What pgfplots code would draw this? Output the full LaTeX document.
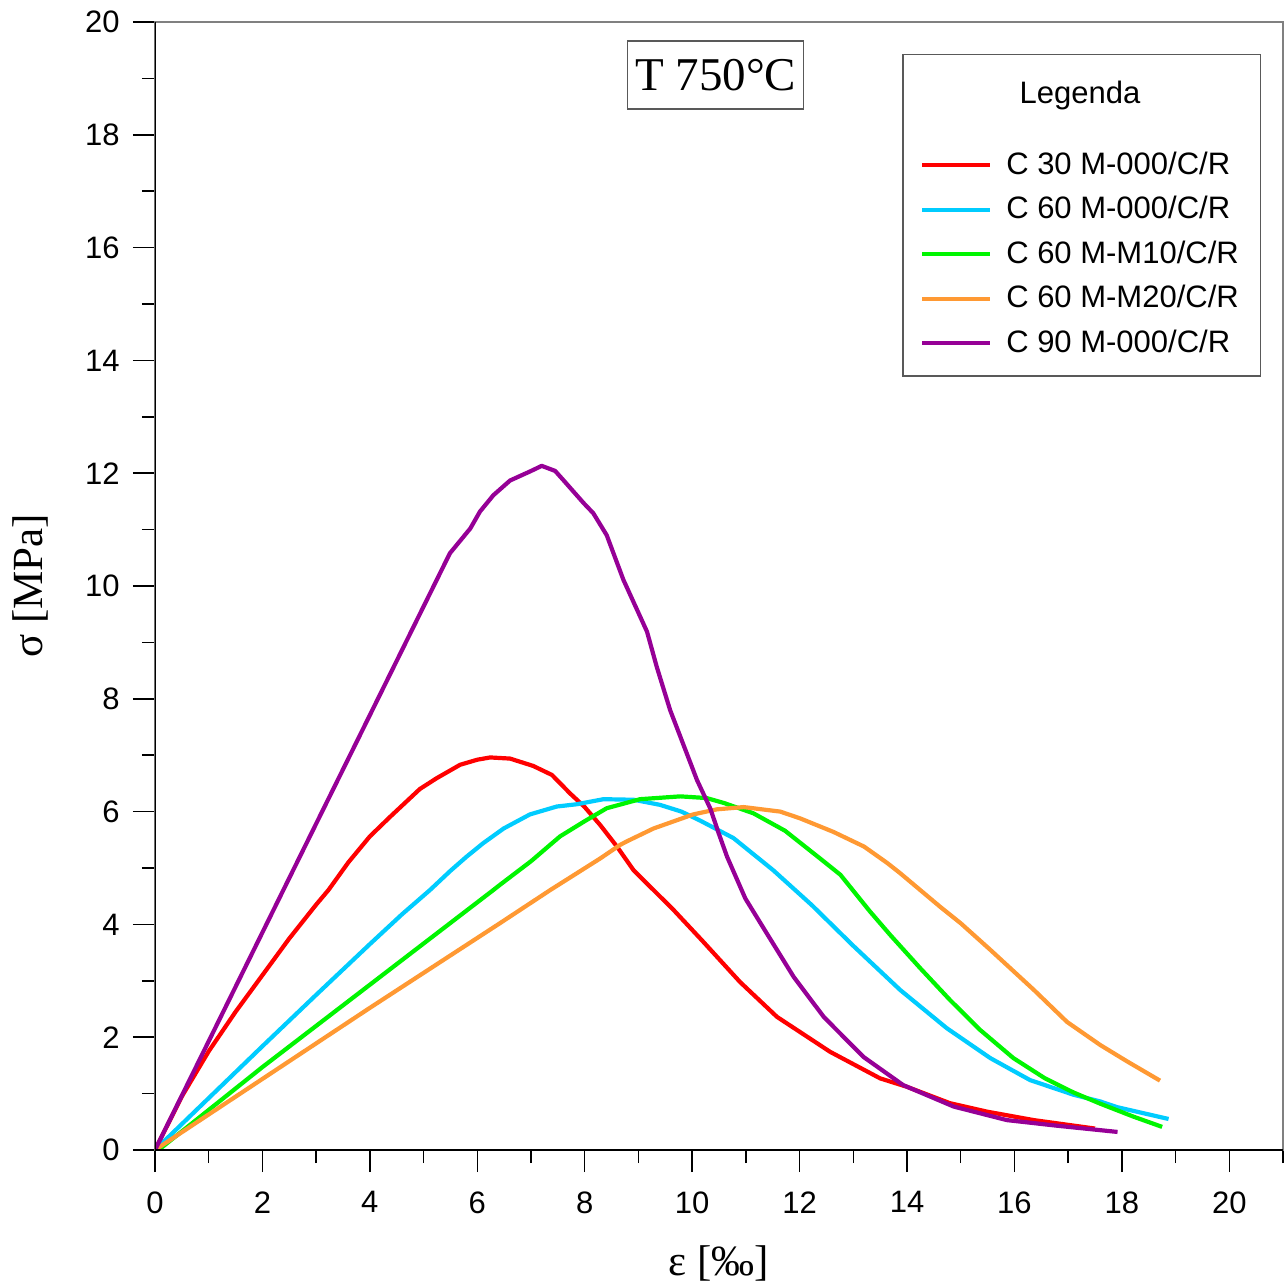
\documentclass[border=0pt]{standalone}
\usepackage{pgfplots}
\pgfplotsset{compat=1.18}
\usepackage{fontspec}
\setmainfont{Liberation Sans}
\newfontfamily\tnr{Liberation Serif}
\definecolor{cRed}{RGB}{255,0,0}
\definecolor{cCyan}{RGB}{0,204,255}
\definecolor{cGreen}{RGB}{0,245,0}
\definecolor{cOrange}{RGB}{255,153,51}
\definecolor{cPurple}{RGB}{150,0,150}
\begin{document}
\begin{tikzpicture}
\begin{axis}[
  scale only axis, width=564pt, height=564pt,
  xmin=0, xmax=21, ymin=0, ymax=20,
  xtick={0,2,...,20}, ytick={0,2,...,20},
  minor xtick={1,3,...,21}, minor ytick={1,3,...,19},
  tick align=outside, xtick pos=left, ytick pos=left,
  major tick length=11pt, minor tick length=6.5pt,
  every tick/.style={black, line width=0.75pt},
  axis line style={line width=1pt, black!50},
  /pgf/number format/assume math mode=true,
  tick label style={font=\fontsize{15.5}{18}\selectfont},
  xticklabel style={inner sep=0pt, anchor=north, yshift=-9.5pt},
  yticklabel style={inner sep=0pt, anchor=east, xshift=-6.5pt},
  xlabel={ε [‰]}, ylabel={σ [MPa]},
  every axis x label/.style={at={(rel axis cs:0.5,0)}, yshift=-56.5pt, anchor=center, font=\tnr\fontsize{21.5}{24}\selectfont},
  every axis y label/.style={at={(rel axis cs:0,0.5)}, xshift=-62.5pt, rotate=90, anchor=center, font=\tnr\fontsize{21.5}{24}\selectfont},
  legend style={draw=none, fill=none, at={(rel axis cs:0.678,0.885)}, anchor=north west,
    inner sep=0pt, row sep=8.25pt, column sep=0pt,
    font=\fontsize{15.5}{18}\selectfont,
    nodes={inner sep=0pt, text height=11pt, text depth=3pt}},
  legend cell align=left,
  legend image code/.code={\draw[#1, line width=2pt] (0pt,0.5pt) -- (34pt,0.5pt); \path (41pt,0.5pt);},
  every axis plot/.append style={line width=2.1pt, line join=round},
]
\addplot[cRed] coordinates {(0,0) (0.5,0.95) (1,1.75) (1.5,2.45) (2,3.1) (2.5,3.75) (3,4.35) (3.23,4.61) (3.6,5.1) (4.0,5.56) (4.38,5.91) (4.93,6.40) (5.24,6.59) (5.68,6.83) (6.0,6.92) (6.24,6.96) (6.61,6.94) (7.04,6.81) (7.39,6.65) (7.73,6.32) (8.0,6.08) (8.29,5.76) (8.6,5.38) (8.91,4.96) (9.28,4.61) (9.65,4.26) (10.18,3.72) (10.89,2.98) (11.58,2.36) (12.57,1.74) (13.5,1.27) (14.0,1.12) (14.8,0.83) (15.49,0.68) (16.36,0.53) (17.5,0.38)};
\addlegendentry{C 30 M-000/C/R}
\addplot[cCyan] coordinates {(0,0) (1,0.92) (2,1.84) (3,2.75) (4,3.65) (4.6,4.18) (5.12,4.61) (5.5,4.95) (5.80,5.20) (6.11,5.44) (6.49,5.70) (6.98,5.95) (7.48,6.09) (7.85,6.13) (8.35,6.22) (8.91,6.21) (9.40,6.12) (9.8,6.0) (10.15,5.84) (10.77,5.53) (11.51,4.96) (12.23,4.34) (13.0,3.62) (13.87,2.84) (14.74,2.16) (15.55,1.63) (16.29,1.24) (17.1,0.98) (17.6,0.86) (17.91,0.76) (18.87,0.55)};
\addlegendentry{C 60 M-000/C/R}
\addplot[cGreen] coordinates {(0,-0.05) (2,1.47) (4,2.93) (6.30,4.61) (6.42,4.70) (7.0,5.12) (7.54,5.56) (8.0,5.83) (8.41,6.06) (9.03,6.22) (9.78,6.27) (10.27,6.24) (10.6,6.15) (11.14,5.97) (11.73,5.66) (12.38,5.17) (12.76,4.88) (13.31,4.23) (13.69,3.81) (14.25,3.22) (14.80,2.66) (15.36,2.13) (15.98,1.63) (16.57,1.27) (17.1,1.02) (17.6,0.82) (18.22,0.59) (18.75,0.41)};
\addlegendentry{C 60 M-M10/C/R}
\addplot[cOrange] coordinates {(0,0) (2,1.26) (4,2.52) (6.42,4.02) (7.36,4.61) (8.29,5.17) (8.66,5.41) (8.78,5.47) (9.28,5.70) (10.02,5.95) (10.46,6.04) (10.96,6.08) (11.64,6.00) (12.01,5.88) (12.63,5.64) (13.2,5.38) (13.63,5.09) (13.87,4.91) (14.62,4.31) (15.0,4.02) (15.55,3.55) (16.36,2.84) (16.98,2.27) (17.6,1.86) (18.1,1.57) (18.71,1.23)};
\addlegendentry{C 60 M-M20/C/R}
\addplot[cPurple] coordinates {(0,0) (2.39,4.61) (5.49,10.58) (5.87,11.02) (6.05,11.32) (6.30,11.61) (6.61,11.87) (6.98,12.03) (7.20,12.13) (7.45,12.04) (7.60,11.88) (7.98,11.47) (8.16,11.29) (8.41,10.90) (8.72,10.11) (9.16,9.19) (9.34,8.57) (9.59,7.80) (10.09,6.56) (10.34,6.05) (10.5,5.6) (10.65,5.20) (10.99,4.46) (11.39,3.84) (11.89,3.07) (12.45,2.36) (13.19,1.65) (13.93,1.15) (14.87,0.77) (15.86,0.53) (16.8,0.43) (17.92,0.32)};
\addlegendentry{C 90 M-000/C/R}
\draw[black, line width=1pt] (rel axis cs:0,1) -- (rel axis cs:0,0) -- (rel axis cs:1,0);
\draw[black!65, line width=0.75pt] (rel axis cs:0.663,0.686) rectangle (rel axis cs:0.980,0.971);
\node[font=\fontsize{15.5}{18}\selectfont] at (rel axis cs:0.820,0.935) {Legenda};
\node[draw=black!65, line width=0.75pt, minimum width=88pt, minimum height=34pt, inner sep=0pt, font=\tnr\fontsize{23.5}{26}\selectfont] at (rel axis cs:0.497,0.953) {T 750°C};
\coordinate (A) at (rel axis cs:0,0);
\coordinate (B) at (rel axis cs:1,1);
\end{axis}
\pgfresetboundingbox
\path ([shift={(-77.5pt,-67pt)}]A) rectangle ([shift={(0.5pt,11pt)}]B);
\end{tikzpicture}
\end{document}
